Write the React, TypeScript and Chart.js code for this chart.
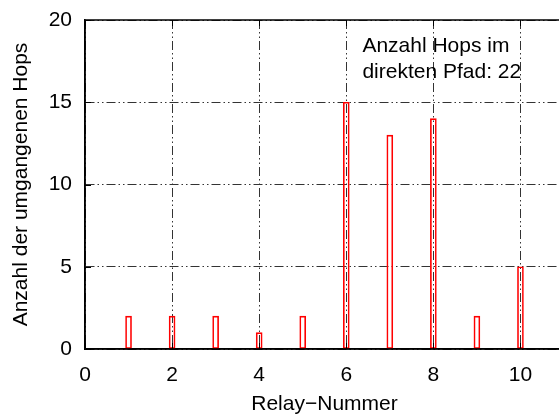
import React, { useEffect, useRef } from "react";
import { Chart, registerables } from "chart.js";

Chart.register(...registerables);

const relays = [1, 2, 3, 4, 5, 6, 7, 8, 9, 10];
const skippedHops = [2, 2, 2, 1, 2, 15, 13, 14, 2, 5];
const xTicks = [0, 2, 4, 6, 8, 10];
const yTicks = [0, 5, 10, 15, 20];
const noteLines = ["Anzahl Hops im", "direkten Pfad: 22"];
const xTitle = "Relay\u2212Nummer";
const yTitle = "Anzahl der umgangenen Hops";

const FONT = "'Liberation Sans', Arial, Helvetica, sans-serif";

export default function App() {
  const ref = useRef<HTMLCanvasElement | null>(null);

  useEffect(() => {
    if (!ref.current) return;
    const framePlugin = {
      id: "frame",
      afterDraw(chart: any) {
        const { ctx, chartArea } = chart;
        const xs = chart.scales.x;
        const ys = chart.scales.y;
        ctx.save();
        ctx.strokeStyle = "#000";
        ctx.lineWidth = 1.5;
        ctx.beginPath();
        ctx.moveTo(chartArea.left, chartArea.top);
        ctx.lineTo(chartArea.right, chartArea.top);
        ctx.moveTo(chartArea.left, chartArea.top);
        ctx.lineTo(chartArea.left, chartArea.bottom);
        ctx.lineTo(chartArea.right, chartArea.bottom);
        ctx.stroke();
        // inward tick marks (top mirror and left/bottom)
        ctx.lineWidth = 1;
        ctx.beginPath();
        xTicks.forEach((v) => {
          const px = Math.round(xs.getPixelForValue(v)) + 0.5;
          ctx.moveTo(px, chartArea.top);
          ctx.lineTo(px, chartArea.top + 6);
          ctx.moveTo(px, chartArea.bottom);
          ctx.lineTo(px, chartArea.bottom - 6);
        });
        yTicks.forEach((v) => {
          const py = Math.round(ys.getPixelForValue(v)) + 0.5;
          ctx.moveTo(chartArea.left, py);
          ctx.lineTo(chartArea.left + 6, py);
        });
        ctx.stroke();
        ctx.fillStyle = "#000";
        ctx.font = `21px ${FONT}`;
        ctx.textAlign = "left";
        ctx.textBaseline = "alphabetic";
        const x0 = xs.getPixelForValue(6.37);
        const y0 = ys.getPixelForValue(18.05);
        noteLines.forEach((l, i) => ctx.fillText(l, x0, y0 + i * 26));
        ctx.restore();
      },
    };
    const chart = new Chart(ref.current, {
      type: "bar",
      data: {
        datasets: [
          {
            data: relays.map((r, i) => ({ x: r, y: skippedHops[i] })),
            backgroundColor: "rgba(0,0,0,0)",
            borderColor: "#ff0000",
            borderWidth: 1,
            barThickness: 6,
            borderSkipped: false,
          },
        ],
      },
      options: {
        animation: false,
        responsive: false,
        maintainAspectRatio: false,
        layout: { padding: { top: 20, left: 0, right: 2, bottom: 0 } },
        plugins: { legend: { display: false }, tooltip: { enabled: false } },
        scales: {
          x: {
            type: "linear",
            min: 0,
            max: 11,
            offset: false,
            afterBuildTicks: (s: any) => {
              s.ticks = xTicks.map((v) => ({ value: v }));
            },
            afterFit: (s: any) => {
              s.height = 68;
              s.paddingLeft = 0;
              s.paddingRight = 0;
            },
            grid: { color: "#333", lineWidth: 1, drawTicks: false, offset: false },
            border: { color: "#000", width: 1.5, dash: [9, 3, 1.5, 3, 1.5, 3] },
            ticks: {
              color: "#000",
              font: { family: FONT, size: 21 },
              padding: 14,
              maxRotation: 0,
            },
            title: {
              display: true,
              text: xTitle,
              color: "#000",
              font: { family: FONT, size: 21 },
              padding: { top: 0, bottom: 0 },
            },
          },
          y: {
            min: 0,
            max: 20,
            afterBuildTicks: (s: any) => {
              s.ticks = yTicks.map((v) => ({ value: v }));
            },
            afterFit: (s: any) => {
              s.width = 85;
              s.paddingTop = 0;
              s.paddingBottom = 0;
            },
            grid: { color: "#333", lineWidth: 1, drawTicks: false, offset: false },
            border: { color: "#000", width: 1.5, dash: [9, 3, 1.5, 3, 1.5, 3] },
            ticks: {
              color: "#000",
              font: { family: FONT, size: 21 },
              padding: 13,
            },
            title: {
              display: true,
              text: yTitle,
              color: "#000",
              font: { family: FONT, size: 21 },
              padding: { top: 9, bottom: 0 },
            },
          },
        },
      },
      plugins: [framePlugin],
    });
    return () => chart.destroy();
  }, []);

  return (
    <div
      style={{
        position: "fixed",
        left: 0,
        top: 0,
        width: 559,
        height: 417,
        overflow: "hidden",
        background: "#fff",
      }}
    >
      <canvas ref={ref} width={566} height={417} style={{ width: 566, height: 417, display: "block" }} />
    </div>
  );
}
